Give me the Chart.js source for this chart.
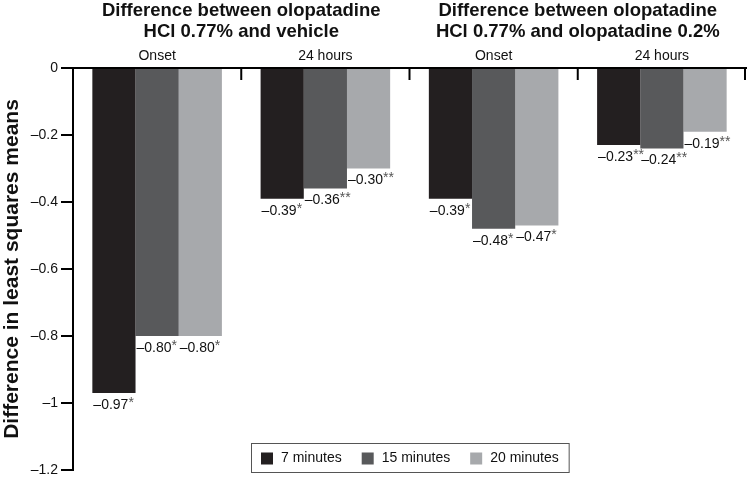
<!DOCTYPE html>
<html>
<head>
<meta charset="utf-8">
<script src="https://cdn.jsdelivr.net/npm/chart.js@4"></script>
<style>
  html,body{margin:0;padding:0;background:#fff;}
  #wrap{width:748px;height:477px;}
</style>
</head>
<body>
<div id="wrap"><canvas id="chart" width="748" height="477"></canvas></div>
<script>
// --- Data ---
const categories = ['Onset','24 hours','Onset','24 hours'];
const groupTitles = [
  ['Difference between olopatadine','HCl 0.77% and vehicle'],
  ['Difference between olopatadine','HCl 0.77% and olopatadine 0.2%']
];
const seriesNames = ['7 minutes','15 minutes','20 minutes'];
const min7  = [-0.97,-0.39,-0.39,-0.23];
const min15 = [-0.80,-0.36,-0.48,-0.24];
const min20 = [-0.80,-0.30,-0.47,-0.19];
const stars7  = ['*','*','*','**'];
const stars15 = ['*','**','*','**'];
const stars20 = ['*','**','*','**'];
const yTicks = [0,-0.2,-0.4,-0.6,-0.8,-1,-1.2];

const FONT = 'Arial, "Liberation Sans", Helvetica, sans-serif';
const colors = ['#231f20','#58595b','#a7a9ac'];
const allStars = [stars7, stars15, stars20];

function fmtTick(v){
  if(Math.abs(v)<1e-9) return '0';
  return '\u2013'+(Math.round(Math.abs(v)*10)/10);
}
function fmtVal(v){ return '\u2013'+Math.abs(v).toFixed(2); }

// --- Plugins ---
const decorations = {
  id:'decorations',
  afterDraw(chart){
    const ctx = chart.ctx, ca = chart.chartArea, xs = chart.scales.x;
    ctx.save();
    // boundary ticks hanging from the top axis
    ctx.strokeStyle='#000'; ctx.lineWidth=2;
    const bounds=[];
    for(let i=0;i<categories.length-1;i++) bounds.push((xs.getPixelForValue(i)+xs.getPixelForValue(i+1))/2);
    bounds.push(ca.right-1);
    bounds.forEach(b=>{ ctx.beginPath(); ctx.moveTo(b,ca.top); ctx.lineTo(b,ca.top+12); ctx.stroke(); });

    // category labels above the axis
    ctx.fillStyle='#111'; ctx.textAlign='center'; ctx.textBaseline='middle';
    ctx.font='14px '+FONT;
    categories.forEach((c,i)=>ctx.fillText(c,xs.getPixelForValue(i),ca.top-12));

    // group titles
    ctx.font='bold 18.5px '+FONT;
    groupTitles.forEach((lines,g)=>{
      const cx=(xs.getPixelForValue(g*2)+xs.getPixelForValue(g*2+1))/2;
      lines.forEach((t,k)=>ctx.fillText(t,cx,11+k*21));
    });

    // value labels under bars
    ctx.textAlign='left'; ctx.textBaseline='middle';
    chart.data.datasets.forEach((ds,di)=>{
      const meta=chart.getDatasetMeta(di);
      meta.data.forEach((el,i)=>{
        const x0=el.x-el.width/2+1, y=el.y+12;
        ctx.font='14px '+FONT; ctx.fillStyle='#111';
        const txt=fmtVal(ds.data[i]);
        ctx.fillText(txt,x0,y);
        const w=ctx.measureText(txt).width;
        ctx.font='14px '+FONT; ctx.fillStyle='#555';
        ctx.fillText(allStars[di][i],x0+w,y-2);
      });
    });

    // legend box inside the plot
    ctx.font='14px '+FONT;
    const sq=12, gapTxt=8, gapItem=20, padX=10;
    const widths=seriesNames.map(n=>sq+gapTxt+ctx.measureText(n).width);
    const total=widths.reduce((a,b)=>a+b,0)+gapItem*(seriesNames.length-1)+padX*2;
    const bx=Math.round((ca.left+ca.right)/2-total/2), by=ca.bottom-27, bh=29;
    ctx.strokeStyle='#555'; ctx.lineWidth=1;
    ctx.strokeRect(bx+0.5,by+0.5,total,bh);
    let x=bx+padX;
    seriesNames.forEach((n,i)=>{
      ctx.fillStyle=colors[i];
      ctx.fillRect(x,by+bh/2-sq/2+1,sq,sq);
      ctx.fillStyle='#111';
      ctx.fillText(n,x+sq+gapTxt,by+bh/2+1);
      x+=widths[i]+gapItem;
    });
    ctx.restore();
  }
};

// --- Chart ---
new Chart(document.getElementById('chart'),{
  type:'bar',
  data:{
    labels:categories,
    datasets:[
      {label:seriesNames[0],data:min7,backgroundColor:colors[0]},
      {label:seriesNames[1],data:min15,backgroundColor:colors[1]},
      {label:seriesNames[2],data:min20,backgroundColor:colors[2]}
    ]
  },
  options:{
    responsive:false,
    animation:false,
    layout:{padding:{top:44,right:2,bottom:7,left:0}},
    datasets:{bar:{categoryPercentage:0.77,barPercentage:1,borderWidth:0}},
    plugins:{legend:{display:false},tooltip:{enabled:false}},
    scales:{
      x:{
        position:'top',
        grid:{display:false},
        border:{display:true,color:'#000',width:2},
        ticks:{display:false},
        afterFit(s){ s.height=24; }
      },
      y:{
        min:-1.2,max:0,
        afterBuildTicks(s){ s.ticks=yTicks.map(v=>({value:v})); },
        ticks:{color:'#111',font:{family:FONT,size:14},padding:3,callback:v=>fmtTick(v)},
        grid:{display:true,drawOnChartArea:false,drawTicks:true,tickLength:12,color:'#000',lineWidth:2},
        border:{display:true,color:'#000',width:2},
        title:{display:true,text:'Difference in least squares means',color:'#111',font:{family:FONT,size:21,weight:'bold'},padding:{top:0,bottom:1}},
        afterFit(s){ s.width=73; s.paddingTop=0; s.paddingBottom=0; }
      }
    }
  },
  plugins:[decorations]
});
</script>
</body>
</html>
